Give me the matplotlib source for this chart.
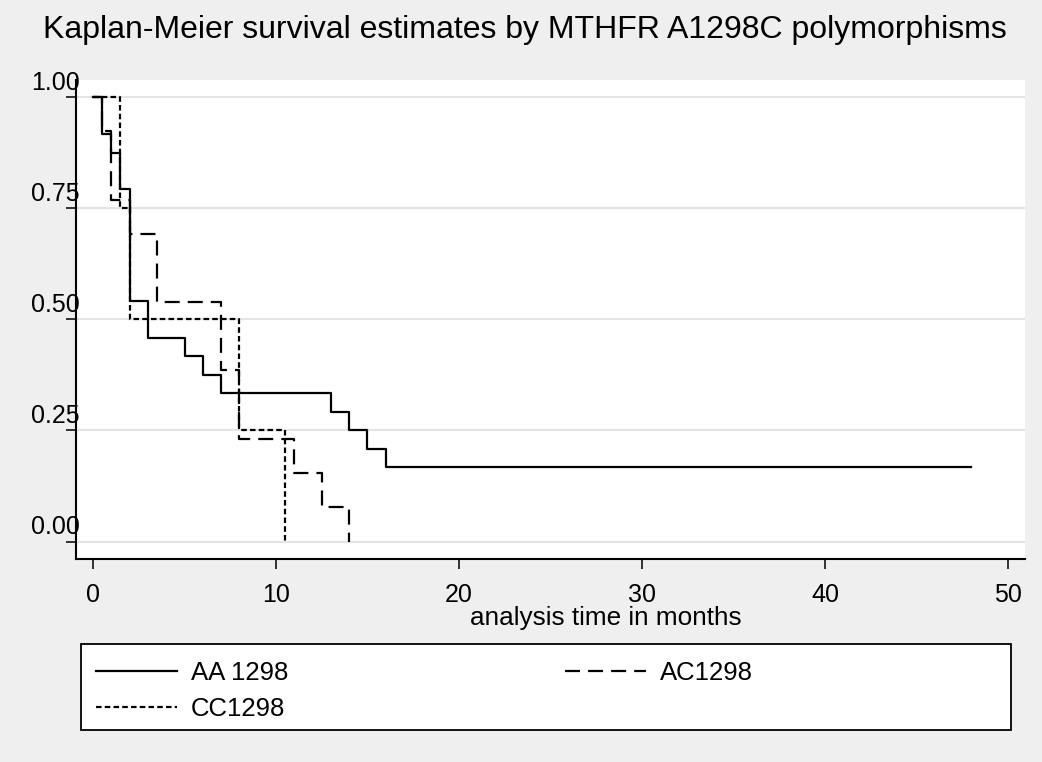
import matplotlib.pyplot as plt
from matplotlib.patches import Rectangle
from matplotlib.transforms import ScaledTranslation

# ==============================================================================
# 1. DATA
# Kaplan-Meier step estimates (time in months, survival).
# ==============================================================================
aa_time = [0, 0.5, 1, 1.5, 2, 3, 5, 6, 7, 13, 14, 15, 16, 48]
aa_surv = [1.0, 0.917, 0.875, 0.792, 0.542, 0.458, 0.417, 0.375, 0.333,
           0.292, 0.25, 0.208, 0.167, 0.167]

ac_time = [0, 0.5, 1, 2, 3.5, 7, 8, 11, 12.5, 14]
ac_surv = [1.0, 0.923, 0.769, 0.692, 0.538, 0.385, 0.231, 0.154, 0.077, 0.0]

cc_time = [0, 1.5, 2, 8, 10.5]
cc_surv = [1.0, 0.75, 0.5, 0.25, 0.0]

group_labels = ['AA 1298', 'AC1298', 'CC1298']
x_ticks = [0, 10, 20, 30, 40, 50]
y_ticks = [0.0, 0.25, 0.5, 0.75, 1.0]
y_ticklabels = ['0.00', '0.25', '0.50', '0.75', '1.00']

# ==============================================================================
# 2. STYLE
# ==============================================================================
W, H = 1042, 762
BG = '#efefef'
GRID = '#e4e4e4'

plt.rcParams['font.family'] = ['Liberation Sans', 'DejaVu Sans']
plt.rcParams['lines.scale_dashes'] = False

DASH_AC = (0, (10.8, 5.8))
DASH_CC = (0, (4.0, 2.3))
TICK_FS = 18
LEG_FS = 18.5


def px(x0, y0, w, h):
    """pixel box (top-left origin) -> figure fraction box"""
    return [x0 / W, 1 - (y0 + h) / H, w / W, h / H]


def plot_km():
    fig = plt.figure(figsize=(W / 100, H / 100), dpi=100, facecolor=BG)
    ax = fig.add_axes(px(76, 80, 949, 479))
    ax.set_facecolor('white')

    # curves
    l_aa, = ax.step(aa_time, aa_surv, where='post', color='black', lw=1.6)
    l_ac, = ax.step(ac_time, ac_surv, where='post', color='black', lw=1.6,
                    linestyle=DASH_AC)
    l_cc, = ax.step(cc_time, cc_surv, where='post', color='black', lw=1.6,
                    linestyle=DASH_CC)

    # axes limits: 0 -> px 93, 50 -> px 1008 ; 1.0 -> px 97, 0 -> px 541.5
    sx = (1008 - 93) / 50
    sy = (541.5 - 97)
    ax.set_xlim((76 - 93) / sx, (1025 - 93) / sx)
    ax.set_ylim(-(559 - 541.5) / sy, 1 + (97 - 80) / sy)

    ax.set_xticks(x_ticks)
    ax.set_yticks(y_ticks)
    ax.tick_params(axis='x', length=7.5, width=1.1, direction='out',
                   labelsize=TICK_FS, pad=9.5)
    ax.tick_params(axis='y', length=7.5, width=1.1, direction='out',
                   labelleft=False)
    for v, lab in zip(y_ticks, y_ticklabels):
        off = ScaledTranslation(4 / 100, 7 / 100, fig.dpi_scale_trans)
        ax.text(0, v, lab, transform=ax.get_yaxis_transform() + off,
                ha='right', va='baseline', fontsize=TICK_FS)

    ax.grid(axis='y', color=GRID, lw=1.5)
    ax.set_axisbelow(True)
    for s in ['top', 'right']:
        ax.spines[s].set_visible(False)
    for s in ['left', 'bottom']:
        ax.spines[s].set_linewidth(1.5)

    # titles
    fig.text(525 / W, 1 - 38 / H, 'Kaplan-Meier survival estimates by MTHFR A1298C polymorphisms',
             ha='center', va='baseline', fontsize=23)
    fig.text(606 / W, 1 - 625 / H, 'analysis time in months',
             ha='center', va='baseline', fontsize=18.8)

    # legend box + entries
    fig.add_artist(Rectangle((81 / W, 1 - 730 / H), 930 / W, 86 / H,
                             transform=fig.transFigure, facecolor='white',
                             edgecolor='black', lw=1.3))
    kw = dict(frameon=False, loc='upper left', borderpad=0, borderaxespad=0,
              fontsize=LEG_FS, handlelength=3.15, handletextpad=0.55,
              labelspacing=0.48)
    fig.legend([l_aa, l_cc], [group_labels[0], group_labels[2]],
               bbox_to_anchor=(96 / W, 1 - 661 / H), **kw)
    fig.legend([l_ac], [group_labels[1]],
               bbox_to_anchor=(565 / W, 1 - 661 / H), **kw)

    fig.savefig('out.png', dpi=100, facecolor=BG)
    plt.close(fig)


def main():
    plot_km()


if __name__ == '__main__':
    main()
